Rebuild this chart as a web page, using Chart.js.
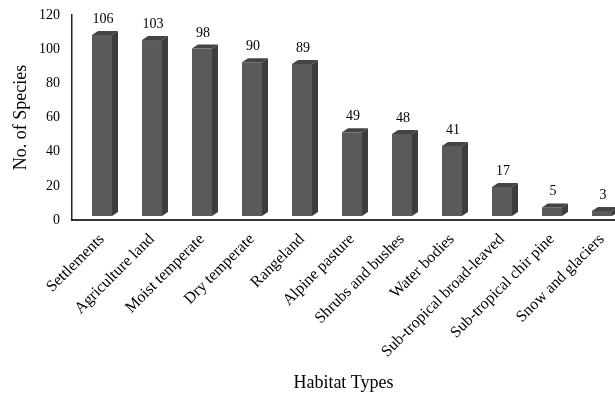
<!DOCTYPE html>
<html>
<head>
<meta charset="utf-8">
<script src="https://cdn.jsdelivr.net/npm/chart.js@4/dist/chart.umd.min.js"></script>
<style>
  html, body { margin: 0; padding: 0; background: #fff; }
  #wrap { width: 615px; height: 394px; }
</style>
</head>
<body>
<div id="wrap"><canvas id="c" width="615" height="394"></canvas></div>
<script>
// Habitat types and number of species recorded in each
const categories = [
  'Settlements', 'Agriculture land', 'Moist temperate', 'Dry temperate',
  'Rangeland', 'Alpine pasture', 'Shrubs and bushes', 'Water bodies',
  'Sub-tropical broad-leaved', 'Sub-tropical chir pine', 'Snow and glaciers'
];
const speciesCounts = [106, 103, 98, 90, 89, 49, 48, 41, 17, 5, 3];
const yTicks = [0, 20, 40, 60, 80, 100, 120];

const FONT = '"Liberation Serif", "Times New Roman", serif';

// Depth of the extruded column faces
const DEPTH_X = 6, DEPTH_Y = 4, LIFT = 4;

const columns3d = {
  id: 'columns3d',
  afterDatasetsDraw(chart) {
    const ctx = chart.ctx;
    const meta = chart.getDatasetMeta(0);
    ctx.save();
    meta.data.forEach((el, i) => {
      const p = el.getProps(['x', 'y', 'base', 'width'], true);
      const l = p.x - p.width / 2, r = p.x + p.width / 2;
      const t = p.y - LIFT, b = p.base - LIFT;
      // front face
      ctx.fillStyle = '#5a5a5a';
      ctx.fillRect(l, t, r - l, b - t);
      // side face
      ctx.fillStyle = '#3d3d3d';
      ctx.beginPath();
      ctx.moveTo(r, t); ctx.lineTo(r + DEPTH_X, t - DEPTH_Y);
      ctx.lineTo(r + DEPTH_X, b - DEPTH_Y); ctx.lineTo(r, b);
      ctx.closePath(); ctx.fill();
      // top face
      ctx.fillStyle = '#444444';
      ctx.beginPath();
      ctx.moveTo(l, t); ctx.lineTo(l + DEPTH_X, t - DEPTH_Y);
      ctx.lineTo(r + DEPTH_X, t - DEPTH_Y); ctx.lineTo(r, t);
      ctx.closePath(); ctx.fill();
      // value label
      ctx.fillStyle = '#000';
      ctx.font = '14px ' + FONT;
      ctx.textAlign = 'center';
      ctx.textBaseline = 'alphabetic';
      ctx.fillText(String(speciesCounts[i]), p.x + 1, t - DEPTH_Y - 8);
    });
    ctx.restore();
  }
};

new Chart(document.getElementById('c'), {
  type: 'bar',
  data: {
    datasets: [{
      data: speciesCounts.map((v, i) => ({ x: i, y: v })),
      backgroundColor: 'rgba(0,0,0,0)',
      borderWidth: 0,
      barThickness: 20
    }]
  },
  options: {
    responsive: false,
    animation: false,
    events: [],
    layout: { padding: { top: 15, right: 0, left: 0, bottom: 0 } },
    plugins: { legend: { display: false }, tooltip: { enabled: false } },
    scales: {
      x: {
        type: 'linear',
        offset: false,
        min: -0.6,
        max: 10.26,
        afterBuildTicks: (scale) => { scale.ticks = categories.map((_, i) => ({ value: i })); },
        afterFit: (scale) => {
          scale.height = 174;
          scale.paddingRight = 0;
          scale.paddingLeft = 0;
        },
        grid: { display: false, drawTicks: false, offset: false },
        border: { display: true, color: '#333', width: 2 },
        ticks: {
          autoSkip: false,
          minRotation: 45,
          maxRotation: 45,
          padding: 10,
          color: '#000',
          font: { family: FONT, size: 16 },
          callback: (v) => categories[v]
        },
        title: {
          display: true,
          text: 'Habitat Types',
          color: '#000',
          font: { family: FONT, size: 18 },
          padding: { top: 0, bottom: 0 }
        }
      },
      y: {
        min: 0,
        max: 120,
        afterBuildTicks: (scale) => { scale.ticks = yTicks.map(v => ({ value: v })); },
        afterFit: (scale) => {
          scale.width = 72;
          scale.paddingTop = 0;
          scale.paddingBottom = 0;
        },
        grid: { display: false, drawTicks: false },
        border: { display: true, color: '#222', width: 1.5 },
        ticks: {
          padding: 12,
          color: '#000',
          font: { family: FONT, size: 14 }
        },
        title: {
          display: true,
          text: 'No. of Species',
          color: '#000',
          font: { family: FONT, size: 18 },
          padding: { top: 10, bottom: 0 }
        }
      }
    }
  },
  plugins: [columns3d]
});
</script>
</body>
</html>
